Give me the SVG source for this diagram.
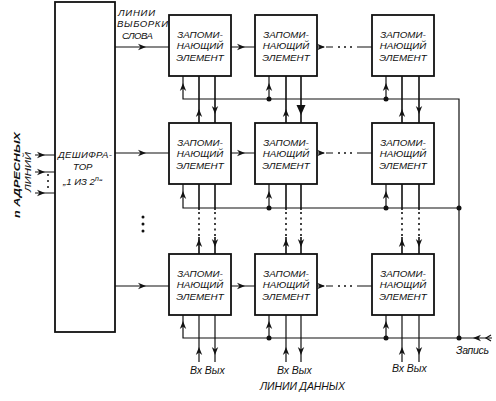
<svg xmlns="http://www.w3.org/2000/svg" xmlns:xlink="http://www.w3.org/1999/xlink" width="496" height="401" viewBox="0 0 496 401">
<style>
.box{fill:#fff;stroke:#111;stroke-width:1.8}
.t{font-family:"Liberation Sans","DejaVu Sans",sans-serif;font-style:italic;font-size:9.8px;fill:#111}
.lb{font-size:10.5px}
.dc{font-size:9.6px}
.ct{text-anchor:middle}
.ln{stroke:#111;stroke-width:1.2;fill:none}
.dl{stroke:#111;stroke-width:1.6;fill:none}
.dot{stroke:#111;stroke-width:1.6;fill:none;stroke-dasharray:2 3.5}
.ah{fill:#111}
.jn{fill:#111}
</style>
<defs>
<path id="ar" d="M0,0 L-8,-3.2 L-5.5,0 L-8,3.2 Z"/>
<path id="arb" d="M0,0 L-10,-4.5 L-10,4.5 Z"/>
</defs>
<rect width="496" height="401" fill="#fff"/>

<g id="decoder">
<rect class="box" x="55" y="2" width="60" height="330" stroke-width="2"/>
<text class="t dc" x="58" y="158" textLength="54">ДЕШИФРА-</text>
<text class="t dc" x="73" y="170">ТОР</text>
<text class="t dc" x="63" y="185">„1 ИЗ 2<tspan font-size="7" dy="-4">n</tspan><tspan dy="4">“</tspan></text>
</g>

<g id="address-label">
<text class="t" font-weight="bold" font-size="11.5px" transform="translate(20,218) rotate(-90)" textLength="86" lengthAdjust="spacingAndGlyphs">n АДРЕСНЫХ</text>
<text class="t" font-size="10px" transform="translate(31,192) rotate(-90)" textLength="40" lengthAdjust="spacingAndGlyphs">ЛИНИЙ</text>
</g>

<g id="word-line-label">
<text class="t dc" x="118" y="16" textLength="37">ЛИНИИ</text>
<text class="t dc" x="117" y="27" textLength="51">ВЫБОРКИ</text>
<text class="t dc" x="122" y="39" textLength="31">СЛОВА</text>
</g>

<g id="cell-1-1"><rect class="box" x="169" y="15" width="62" height="61"/><text class="t ct" x="200" y="37.5">ЗАПОМИ-</text><text class="t ct" x="200" y="48.5">НАЮЩИЙ</text><text class="t ct" x="200" y="61">ЭЛЕМЕНТ</text></g>
<g id="cell-1-2"><rect class="box" x="255" y="15" width="62" height="61"/><text class="t ct" x="286" y="37.5">ЗАПОМИ-</text><text class="t ct" x="286" y="48.5">НАЮЩИЙ</text><text class="t ct" x="286" y="61">ЭЛЕМЕНТ</text></g>
<g id="cell-1-3"><rect class="box" x="372" y="15" width="62" height="61"/><text class="t ct" x="403" y="37.5">ЗАПОМИ-</text><text class="t ct" x="403" y="48.5">НАЮЩИЙ</text><text class="t ct" x="403" y="61">ЭЛЕМЕНТ</text></g>

<g id="cell-2-1"><rect class="box" x="169" y="123" width="62" height="61"/><text class="t ct" x="200" y="145.5">ЗАПОМИ-</text><text class="t ct" x="200" y="156.5">НАЮЩИЙ</text><text class="t ct" x="200" y="169">ЭЛЕМЕНТ</text></g>
<g id="cell-2-2"><rect class="box" x="255" y="123" width="62" height="61"/><text class="t ct" x="286" y="145.5">ЗАПОМИ-</text><text class="t ct" x="286" y="156.5">НАЮЩИЙ</text><text class="t ct" x="286" y="169">ЭЛЕМЕНТ</text></g>
<g id="cell-2-3"><rect class="box" x="372" y="123" width="62" height="61"/><text class="t ct" x="403" y="145.5">ЗАПОМИ-</text><text class="t ct" x="403" y="156.5">НАЮЩИЙ</text><text class="t ct" x="403" y="169">ЭЛЕМЕНТ</text></g>

<g id="cell-3-1"><rect class="box" x="169" y="254" width="62" height="61"/><text class="t ct" x="200" y="276.5">ЗАПОМИ-</text><text class="t ct" x="200" y="287.5">НАЮЩИЙ</text><text class="t ct" x="200" y="300">ЭЛЕМЕНТ</text></g>
<g id="cell-3-2"><rect class="box" x="255" y="254" width="62" height="61"/><text class="t ct" x="286" y="276.5">ЗАПОМИ-</text><text class="t ct" x="286" y="287.5">НАЮЩИЙ</text><text class="t ct" x="286" y="300">ЭЛЕМЕНТ</text></g>
<g id="cell-3-3"><rect class="box" x="372" y="254" width="62" height="61"/><text class="t ct" x="403" y="276.5">ЗАПОМИ-</text><text class="t ct" x="403" y="287.5">НАЮЩИЙ</text><text class="t ct" x="403" y="300">ЭЛЕМЕНТ</text></g>

<g id="labels">
<text class="t lb" x="190" y="374">Вх Вых</text>
<text class="t lb" x="277" y="374">Вх Вых</text>
<text class="t lb" x="392" y="372">Вх Вых</text>
<text class="t lb" x="260" y="390" textLength="85">ЛИНИИ ДАННЫХ</text>
<text class="t lb" x="456" y="354" textLength="33">Запись</text>
</g>

<g id="connectors">
<!-- address inputs -->
<path class="ln" d="M35,155H55M35,172H55M35,193H55"/>
<use href="#ar" class="ah" transform="translate(45,155)"/>
<use href="#ar" class="ah" transform="translate(45,172)"/>
<use href="#ar" class="ah" transform="translate(45,193)"/>
<circle class="jn" cx="48" cy="175" r="1"/><circle class="jn" cx="48" cy="181" r="1"/><circle class="jn" cx="48" cy="187" r="1"/>
<circle class="jn" cx="143" cy="217" r="1.5"/><circle class="jn" cx="143" cy="224" r="1.5"/><circle class="jn" cx="143" cy="231" r="1.5"/>

<!-- word lines -->
<path class="ln" d="M115,47H169M231,47H255M317,47H324M326,47H333M357,47H372"/>
<use href="#ar" class="ah" transform="translate(146,47)"/>
<use href="#ar" class="ah" transform="translate(245,47)"/>
<use href="#ar" class="ah" transform="translate(325,47)"/>
<circle class="jn" cx="339" cy="47" r="1"/><circle class="jn" cx="345" cy="47" r="1"/><circle class="jn" cx="351" cy="47" r="1"/>

<path class="ln" d="M115,153H169M231,153H255M317,153H324M326,153H333M357,153H372"/>
<use href="#ar" class="ah" transform="translate(146,153)"/>
<use href="#ar" class="ah" transform="translate(245,153)"/>
<use href="#ar" class="ah" transform="translate(325,153)"/>
<circle class="jn" cx="339" cy="153" r="1"/><circle class="jn" cx="345" cy="153" r="1"/><circle class="jn" cx="351" cy="153" r="1"/>

<path class="ln" d="M115,286H169M231,286H255M317,286H324M326,286H333M357,286H372"/>
<use href="#ar" class="ah" transform="translate(146,286)"/>
<use href="#ar" class="ah" transform="translate(245,286)"/>
<use href="#ar" class="ah" transform="translate(325,286)"/>
<circle class="jn" cx="339" cy="286" r="1"/><circle class="jn" cx="345" cy="286" r="1"/><circle class="jn" cx="351" cy="286" r="1"/>

<!-- write lines -->
<path class="ln" d="M183,76V99H459V338M269,76V99M386,76V99"/>
<path class="ln" d="M183,184V208H459M269,184V208M386,184V208"/>
<path class="ln" d="M183,315V338H492M269,315V338M386,315V338"/>
<use href="#ar" class="ah" transform="translate(183,83) rotate(-90)"/>
<use href="#ar" class="ah" transform="translate(269,83) rotate(-90)"/>
<use href="#ar" class="ah" transform="translate(386,83) rotate(-90)"/>
<use href="#ar" class="ah" transform="translate(183,191) rotate(-90)"/>
<use href="#ar" class="ah" transform="translate(269,191) rotate(-90)"/>
<use href="#ar" class="ah" transform="translate(386,191) rotate(-90)"/>
<use href="#ar" class="ah" transform="translate(183,321) rotate(-90)"/>
<use href="#ar" class="ah" transform="translate(269,321) rotate(-90)"/>
<use href="#ar" class="ah" transform="translate(386,321) rotate(-90)"/>
<circle class="jn" cx="269" cy="99" r="2.5"/><circle class="jn" cx="386" cy="99" r="2.5"/>
<circle class="jn" cx="269" cy="208" r="2.5"/><circle class="jn" cx="386" cy="208" r="2.5"/><circle class="jn" cx="459" cy="208" r="2.5"/>
<circle class="jn" cx="269" cy="338" r="2.5"/><circle class="jn" cx="386" cy="338" r="2.5"/><circle class="jn" cx="459" cy="338" r="2.5"/>
<use href="#ar" class="ah" transform="translate(473,338) rotate(180)"/>
<path class="ln" d="M491,335L486,338L491,341"/>

<!-- data lines row1 -> row2 -->
<path class="dl" d="M199,76V123M215,76V123M286,76V123M402,76V123M419,76V123"/>
<path class="dl" d="M301,76V123" stroke-width="2.6"/>
<use href="#ar" class="ah" transform="translate(199,109) rotate(-90)"/>
<use href="#ar" class="ah" transform="translate(215,114) rotate(90)"/>
<use href="#ar" class="ah" transform="translate(286,109) rotate(-90)"/>
<use href="#arb" class="ah" transform="translate(301,115) rotate(90)"/>
<use href="#ar" class="ah" transform="translate(402,109) rotate(-90)"/>
<use href="#ar" class="ah" transform="translate(419,114) rotate(90)"/>

<!-- data lines row2 -> row3 -->
<path class="dl" d="M199,184V210M215,184V210M286,184V210M301,184V210M402,184V210M419,184V210"/>
<path class="dot" d="M199,212V236M215,212V236M286,212V236M301,212V236M402,212V236M419,212V236"/>
<path class="dl" d="M199,237V254M215,237V254M286,237V254M301,237V254M402,237V254M419,237V254"/>
<use href="#ar" class="ah" transform="translate(199,239) rotate(-90)"/>
<use href="#ar" class="ah" transform="translate(215,247) rotate(90)"/>
<use href="#ar" class="ah" transform="translate(286,239) rotate(-90)"/>
<use href="#ar" class="ah" transform="translate(301,247) rotate(90)"/>
<use href="#ar" class="ah" transform="translate(402,239) rotate(-90)"/>
<use href="#ar" class="ah" transform="translate(419,247) rotate(90)"/>

<!-- data lines row3 -> outside -->
<path class="ln" d="M199,315V362M215,315V362M286,315V362M301,315V362M402,315V362M419,315V362"/>
<use href="#ar" class="ah" transform="translate(199,347) rotate(-90)"/>
<use href="#ar" class="ah" transform="translate(215,355) rotate(90)"/>
<use href="#ar" class="ah" transform="translate(286,347) rotate(-90)"/>
<use href="#ar" class="ah" transform="translate(301,355) rotate(90)"/>
<use href="#ar" class="ah" transform="translate(402,347) rotate(-90)"/>
<use href="#ar" class="ah" transform="translate(419,355) rotate(90)"/>
</g>
</svg>
